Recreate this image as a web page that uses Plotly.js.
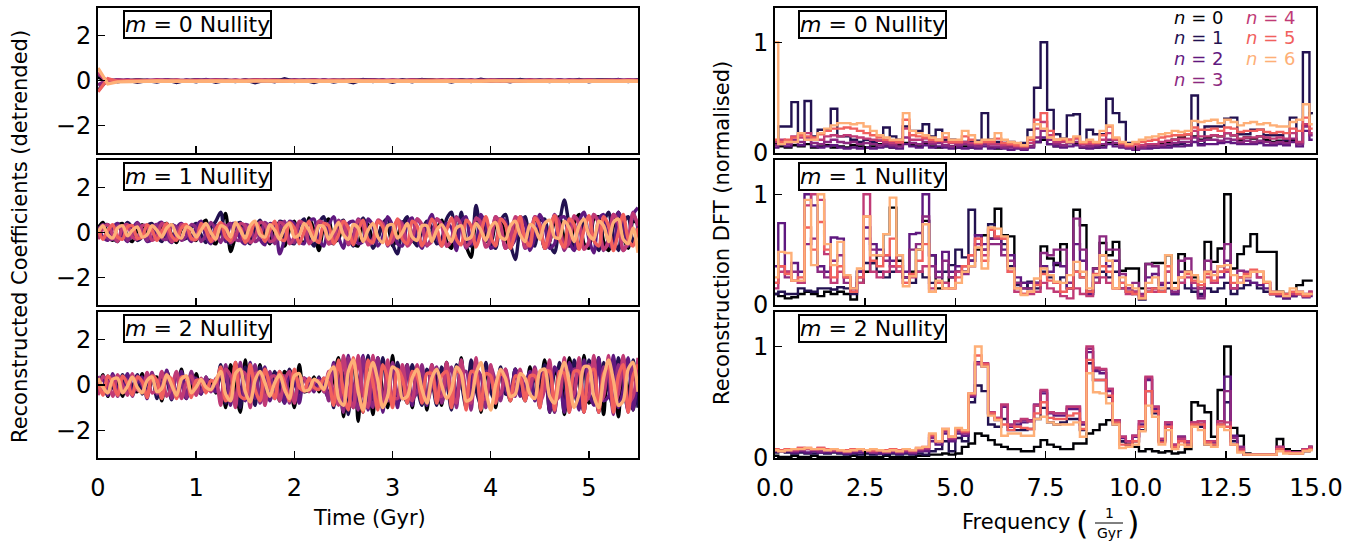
<!DOCTYPE html>
<html><head><meta charset="utf-8">
<script src="https://cdn.plot.ly/plotly-3.0.1.min.js"></script>
<style>html,body{margin:0;padding:0;background:#fff}</style>
</head><body>
<div id="chart" style="width:1359px;height:542px"></div>
<script>
// ---------------- DATA ----------------
const nLabels = ['0','1','2','3','4','5','6'];
const panelLabels = ['0','1','2'];
const timeStep = 0.05;      // Gyr, m=1 and m=2 series
const timeStepM0 = 0.1;     // Gyr, m=0 series
const freqStep = 1/5.5;     // 1/Gyr, DFT bins
const timeTicks = [0,1,2,3,4,5];
const coefTicks = [-2,0,2];
const coefTickText = ['\u22122','0','2'];
const freqTicks = [0,2.5,5,7.5,10,12.5,15];
const freqTickText = ['0.0','2.5','5.0','7.5','10.0','12.5','15.0'];
const dftTicks = [0,1];
const dftTickText = ['0','1'];

// m=0 reconstructed coefficients (step 0.1 Gyr)
const m0n0 = [0.15,-0.02,0.01,-0.01,0.02,0.0,-0.02,0.01,0.0,-0.01,0.02,-0.01,0.0,0.01,-0.02,0.0,0.01,-0.01,0.02,0.0,-0.01,0.0,0.01,-0.02,0.0,0.01,-0.01,0.0,0.02,-0.01,0.0,0.01,-0.01,0.0,0.02,-0.02,0.0,0.01,-0.01,0.0,0.01,-0.01,0.02,0.0,-0.01,0.0,0.01,-0.02,0.0,0.01,-0.01,0.0,0.02,-0.01,0.0,0.01];
const m0n1 = [-0.45,0.05,-0.06,0.02,-0.08,0.0,-0.07,0.03,-0.09,0.02,-0.06,0.04,-0.08,0.01,-0.05,0.03,-0.1,0.02,-0.06,0.08,-0.04,0.02,-0.09,0.03,-0.07,0.01,-0.1,0.04,-0.05,0.02,-0.08,0.03,-0.06,0.05,-0.04,0.02,-0.07,0.03,-0.05,0.06,-0.03,0.02,-0.06,0.04,-0.03,0.02,-0.05,0.03,-0.04,0.05,-0.06,0.02,-0.03,0.04,-0.05,0.02];
const m0n2 = [0.3,-0.05,0.03,-0.04,0.02,-0.03,0.04,-0.02,0.01,-0.04,0.03,-0.02,0.04,-0.03,0.02,-0.04,0.03,-0.01,0.02,-0.03,0.04,-0.02,0.03,-0.04,0.02,-0.03,0.03,-0.02,0.04,-0.03,0.02,-0.04,0.03,-0.02,0.01,-0.03,0.04,-0.02,0.03,-0.04,0.02,-0.03,0.04,-0.02,0.03,-0.03,0.02,-0.04,0.03,-0.02,0.04,-0.03,0.02,-0.03,0.03,-0.02];
const m0n3 = [-0.2,0.04,-0.02,0.03,-0.03,0.02,-0.01,0.03,-0.03,0.02,-0.02,0.03,-0.01,0.02,-0.03,0.02,-0.02,0.03,-0.02,0.01,-0.03,0.02,-0.02,0.03,-0.01,0.02,-0.03,0.02,-0.02,0.03,-0.02,0.01,-0.03,0.02,-0.02,0.03,-0.01,0.02,-0.03,0.02,-0.02,0.03,-0.02,0.01,-0.03,0.02,-0.02,0.03,-0.02,0.02,-0.03,0.02,-0.01,0.03,-0.02,0.02];
const m0n4 = [0.35,-0.1,0.02,-0.02,0.01,-0.02,0.02,-0.01,0.02,-0.02,0.01,-0.02,0.02,-0.01,0.01,-0.02,0.02,-0.01,0.02,-0.02,0.01,-0.01,0.02,-0.02,0.01,-0.02,0.02,-0.01,0.01,-0.02,0.02,-0.01,0.02,-0.02,0.01,-0.01,0.02,-0.02,0.01,-0.02,0.02,-0.01,0.01,-0.02,0.02,-0.01,0.02,-0.02,0.01,-0.01,0.02,-0.02,0.01,-0.02,0.02,-0.01];
const m0n5 = [-0.5,0.08,-0.04,-0.01,-0.02,0.0,-0.01,-0.02,0.0,-0.01,-0.02,0.0,-0.01,-0.01,0.0,-0.02,-0.01,0.0,-0.01,-0.02,0.0,-0.01,-0.01,0.0,-0.02,-0.01,0.0,-0.01,-0.02,0.0,-0.01,-0.01,0.0,-0.02,-0.01,0.0,-0.01,-0.01,0.0,-0.02,-0.01,0.0,-0.01,-0.01,0.0,-0.02,-0.01,0.0,-0.01,-0.02,0.0,-0.01,-0.01,0.0,-0.02,-0.01];
const m0n6 = [0.55,-0.15,-0.06,-0.04,-0.03,-0.03,-0.02,-0.03,-0.03,-0.02,-0.03,-0.02,-0.03,-0.03,-0.02,-0.03,-0.02,-0.03,-0.02,-0.03,-0.03,-0.02,-0.03,-0.02,-0.03,-0.03,-0.02,-0.03,-0.02,-0.03,-0.02,-0.03,-0.03,-0.02,-0.03,-0.02,-0.03,-0.03,-0.02,-0.03,-0.02,-0.03,-0.02,-0.03,-0.03,-0.02,-0.03,-0.02,-0.03,-0.03,-0.02,-0.03,-0.02,-0.03,-0.02,-0.03];

// m=1 reconstructed coefficients (step 0.05 Gyr)
const m1n0 = [0.2,0.45,-0.1,-0.35,0.3,0.4,-0.2,-0.4,0.1,0.35, 0.05,-0.3,-0.2,0.25,0.4,-0.1,-0.45,0.15,0.3,-0.2, -0.35,0.3,0.55,-0.3,-0.5,0.2,0.85,-0.85,-0.2,0.3, 0.1,-0.4,0.25,0.45,-0.15,-0.5,0.3,0.4,-0.6,0.1, 0.5,-0.3,-0.45,0.65,0.1,-0.8,0.3,0.6,-0.4,-0.3, 0.45,0.2,-0.5,-0.6,0.5,0.35,-0.3,-0.2,0.4,0.3, -0.6,-0.2,0.45,0.5,-0.3,-0.5,0.2,0.3,-0.35,0.1, 0.55,-0.4,-0.7,0.6,0.4,-0.6,-1.1,0.5,0.7,-0.3, -0.5,0.4,0.6,-0.2,-0.7,0.3,0.5,-0.4,-0.6,0.65, 0.2,-0.7,-0.4,0.5,0.7,-0.3,-0.6,0.4,0.8,-0.5, -0.7,0.6,0.7,-0.4,-0.8,0.3,0.9,-0.2,-0.7,0.5,0.4];
const m1n1 = [-0.1,0.3,0.35,-0.2,-0.4,0.1,0.45,0.2,-0.35,-0.2, 0.3,0.4,-0.15,-0.4,0.1,0.35,0.2,-0.3,-0.25,0.2, 0.4,-0.1,-0.45,0.2,0.5,0.9,-0.3,-0.5,0.3,0.45, -0.2,-0.5,0.2,0.55,0.1,-0.45,-0.3,0.5,0.4,-0.4, -0.5,0.3,0.6,-0.2,-0.6,0.4,0.7,-0.3,-0.5,0.3, 0.55,-0.2,-0.6,0.2,0.65,0.1,-0.7,-0.3,0.4,0.6, -0.5,-0.95,0.3,0.7,-0.2,-0.6,0.1,0.5,0.2,-0.5, -0.3,0.6,0.9,-0.4,0.9,-0.3,-0.6,1.2,0.2,0.6, -0.4,-0.7,0.5,0.8,-0.5,-1.2,0.2,0.7,-0.3,-0.6, 0.5,0.6,-0.5,-0.9,0.4,1.45,0.3,-0.6,-0.7,0.5, 0.7,-0.3,-0.8,0.4,0.9,-0.2,-0.8,0.4,0.7,-0.5,0.3];
const m1n2 = [0.25,-0.2,-0.35,0.2,0.4,-0.1,-0.4,0.15,0.45,0.1, -0.4,-0.3,0.3,0.45,-0.2,-0.45,0.2,0.4,-0.1,-0.4, 0.25,0.5,-0.2,-0.5,0.3,0.1,-0.4,0.35,0.4,-0.3, -0.5,0.3,0.4,-0.3,-0.55,0.4,0.3,-0.95,-0.3,0.5, 0.4,-0.4,-0.5,0.5,0.6,-0.3,-0.6,0.3,0.7,-0.2, -0.7,0.4,0.5,-0.5,-0.4,0.6,0.3,-0.6,-0.2,0.7, 0.3,-0.5,-0.6,0.4,0.65,-0.3,-0.7,0.3,0.8,-0.2, -0.6,0.4,0.2,-0.8,0.5,0.7,-0.5,-0.4,0.8,0.3, -0.7,-0.5,0.6,0.5,-0.6,-0.3,0.7,0.4,-0.8,-0.2, 0.8,0.3,-0.7,-0.5,0.6,0.7,-0.4,-0.8,0.5,0.9, -0.3,-0.9,0.6,0.8,-0.5,-0.7,0.9,0.4,-0.6,0.8,1.1];
const m1n3 = [0.1,0.35,-0.25,-0.3,0.3,0.2,-0.35,-0.1,0.4,0.05, -0.35,0.2,0.35,-0.25,-0.3,0.3,0.25,-0.35,-0.15,0.35, 0.2,-0.4,-0.1,0.45,0.1,-0.45,0.2,0.4,-0.3,-0.35, 0.35,0.25,-0.4,-0.2,0.45,0.2,-0.5,0.1,0.5,-0.3, -0.45,0.35,0.4,-0.4,-0.3,0.5,0.3,-0.5,-0.2,0.55, 0.2,-0.55,-0.1,0.6,0.3,-0.5,-0.45,0.5,0.35,-0.6, -0.2,0.55,0.4,-0.55,-0.3,0.6,0.25,-0.6,-0.2,0.6, 0.4,-0.6,-0.3,0.7,0.3,-0.7,-0.2,0.6,0.5,-0.6, -0.4,0.7,0.3,-0.7,-0.3,0.6,0.5,-0.7,-0.4,0.7, 0.4,-0.7,-0.3,0.8,0.3,-0.8,-0.2,0.7,0.5,-0.7, -0.5,0.8,0.4,-0.8,-0.3,0.8,0.5,-0.8,-0.4,0.9,0.2];
const m1n4 = [-0.3,0.2,0.35,-0.1,-0.4,0.25,0.35,-0.2,-0.3,0.3, 0.3,-0.35,-0.15,0.4,0.2,-0.4,-0.2,0.35,0.3,-0.3, -0.3,0.3,0.35,-0.4,-0.2,0.4,0.3,-0.45,-0.2,0.4, 0.3,-0.45,-0.2,0.45,0.35,-0.4,-0.3,0.45,0.3,-0.5, -0.2,0.5,0.35,-0.5,-0.2,0.5,0.4,-0.5,-0.3,0.45, 0.45,-0.5,-0.3,0.55,0.3,-0.55,-0.3,0.55,0.4,-0.5, -0.4,0.55,0.3,-0.6,-0.3,0.6,0.35,-0.55,-0.4,0.6, 0.3,-0.6,-0.35,0.65,0.3,-0.6,-0.4,0.65,0.4,-0.65, -0.3,0.7,0.35,-0.7,-0.35,0.7,0.4,-0.65,-0.45,0.7, 0.35,-0.7,-0.4,0.75,0.4,-0.7,-0.45,0.75,0.35,-0.75, -0.4,0.8,0.4,-0.75,-0.45,0.8,0.4,-0.8,-0.4,0.85,0.3];
const m1n5 = [0.15,-0.3,0.1,0.35,-0.2,-0.3,0.25,0.3,-0.25,-0.2, 0.35,0.1,-0.35,0.05,0.4,-0.15,-0.35,0.2,0.35,-0.25, -0.3,0.4,0.1,-0.4,0.15,0.45,-0.2,-0.35,0.4,0.2, -0.45,-0.1,0.45,0.15,-0.4,0.1,0.5,-0.25,-0.35,0.45, 0.2,-0.5,0.05,0.5,-0.2,-0.45,0.4,0.3,-0.5,-0.1, 0.5,0.2,-0.55,0.1,0.55,-0.3,-0.45,0.5,0.25,-0.55, 0.0,0.6,-0.3,-0.5,0.5,0.3,-0.6,-0.1,0.6,0.2, -0.6,0.1,0.65,-0.3,-0.55,0.55,0.3,-0.65,0.0,0.7, -0.2,-0.6,0.6,0.35,-0.7,0.0,0.7,-0.3,-0.6,0.65, 0.3,-0.7,0.1,0.75,-0.3,-0.65,0.6,0.35,-0.75,0.1, 0.75,-0.35,-0.6,0.7,0.3,-0.8,0.0,0.8,-0.3,-0.6,0.2];
const m1n6 = [0.0,0.3,-0.1,-0.25,0.2,0.3,-0.15,0.1,0.25,-0.2, -0.1,0.3,0.1,-0.2,0.2,0.35,-0.1,-0.25,0.25,0.15, -0.2,0.1,0.4,0.0,-0.3,0.3,0.2,-0.2,0.45,0.1, -0.25,0.3,0.5,-0.1,-0.2,0.35,0.1,-0.3,0.2,0.4, -0.2,-0.1,0.4,0.1,-0.35,0.3,0.25,-0.3,0.05,0.45, -0.1,-0.3,0.35,0.2,-0.4,0.1,0.4,-0.2,-0.45,0.3, 0.35,-0.25,0.0,0.4,-0.2,-0.35,0.3,0.3,-0.4,0.1, 0.35,0.0,-0.4,0.2,0.3,-0.3,-0.2,0.4,0.1,-0.35, 0.25,0.45,-0.2,-0.3,0.3,0.5,-0.1,-0.4,0.35,0.2, -0.3,0.4,0.55,-0.2,-0.25,0.5,0.2,-0.4,0.3,0.6, -0.1,-0.3,0.5,0.3,-0.4,0.45,0.6,-0.3,-0.5,0.2,-0.9];

// m=2 reconstructed coefficients (step 0.05 Gyr)
const m2n0 = [-0.4,0.45,-0.5,0.3,0.1,-0.5,0.45,-0.2,-0.3,0.5, -0.45,0.2,0.35,-0.7,0.6,-0.1,-0.55,0.7,-0.4,-0.2, 0.5,-0.35,0.1,0.2,-0.35,0.6,-1.0,0.9,-0.2,-1.2, 1.1,-0.6,-0.4,0.9,-0.8,0.3,0.5,-0.7,0.6,0.2, -1.0,0.9,-0.3,-0.2,0.35,-0.3,0.1,-0.4,0.3,1.2, -1.4,0.6,0.8,-1.6,1.0,0.5,-1.3,1.2,-0.3,-1.0, 1.3,-0.8,-0.3,0.9,-1.0,0.4,0.6,-1.1,0.8,0.2, -0.9,1.0,-0.4,-0.7,1.2,-0.8,-0.3,1.1,-1.2,0.4, 0.7,-1.0,0.6,0.2,-0.7,0.7,-0.3,-0.5,0.8,-0.6, -0.2,1.1,-1.2,0.5,0.6,-1.3,1.2,-0.2,-1.0,1.3, -0.8,-0.4,1.2,-1.3,0.7,0.5,-1.4,1.2,-0.3,-1.1,1.0];
const m2n1 = [0.3,-0.4,0.4,-0.1,-0.35,0.45,-0.3,-0.1,0.45,-0.4, 0.05,0.45,-0.6,0.4,0.2,-0.65,0.5,0.1,-0.6,0.5, -0.05,-0.4,0.35,-0.2,-0.1,0.9,-0.8,0.3,0.6,-1.0, 0.8,0.2,-0.9,0.8,-0.1,-0.6,0.6,0.0,-0.8,0.7, 0.1,-0.35,0.3,-0.1,-0.2,0.35,-0.3,0.5,-1.0,0.9, 0.4,-1.3,1.1,0.1,-1.2,1.3,-0.4,-0.9,1.2,-0.3, -0.8,1.0,-0.2,-0.8,0.9,-0.1,-0.9,0.7,0.2,-0.9, 0.8,0.2,-1.1,0.9,0.1,-1.0,1.1,-0.2,-0.9,1.0, -0.3,-0.7,0.8,-0.4,-0.4,0.7,-0.1,-0.7,0.6,0.3, -1.0,0.9,0.2,-1.2,1.0,0.1,-1.1,1.1,0.0,-1.2, 1.1,0.2,-1.2,1.0,-0.2,-1.0,1.2,0.0,-1.1,1.1,-1.0];
const m2n2 = [-0.2,0.35,-0.45,0.5,-0.2,-0.3,0.5,-0.45,0.1,0.35, -0.6,0.5,0.0,-0.5,0.65,-0.3,-0.3,0.6,-0.6,0.2, 0.3,-0.4,0.3,-0.1,-0.3,0.5,0.3,-0.9,1.0,-0.3, -0.7,1.0,-0.6,-0.3,0.8,-0.7,0.1,0.6,-0.8,0.5, 0.3,-0.8,0.3,0.1,-0.3,0.3,-0.1,-0.6,1.0,-0.7, -0.5,1.3,-1.0,-0.3,1.3,-1.1,-0.1,1.2,-1.2,0.4, 0.8,-1.0,0.5,0.5,-0.9,0.7,0.3,-0.9,0.9,-0.2, -0.7,1.0,-0.6,-0.4,1.1,-0.9,0.1,0.9,-1.0,0.6, 0.5,-0.8,0.6,-0.2,-0.5,0.7,-0.5,0.0,0.6,-0.7, 0.4,0.7,-1.2,0.8,0.3,-1.2,1.0,0.1,-1.1,1.1, -0.3,-0.9,1.2,-0.7,-0.5,1.3,-1.0,-0.2,1.2,-1.1,0.6];
const m2n3 = [0.4,-0.3,0.0,0.4,-0.5,0.3,0.2,-0.5,0.4,0.0, -0.4,0.55,-0.4,0.0,0.5,-0.6,0.4,0.1,-0.55,0.6, -0.2,-0.3,0.35,-0.3,0.05,-0.6,0.9,-0.5,-0.5,1.0, -0.6,-0.3,0.9,-0.8,0.0,0.6,-0.6,0.3,0.4,-0.8, 0.6,0.0,-0.3,0.3,-0.2,-0.1,0.3,-0.7,0.9,0.2, -1.2,1.2,-0.2,-1.1,1.2,-0.2,-1.0,1.2,-0.5,-0.7, 1.0,-0.4,-0.6,0.9,-0.6,-0.3,0.9,-0.8,0.0,0.8, -0.8,0.2,0.8,-1.0,0.5,0.6,-1.1,0.7,0.4,-1.0, 0.8,0.1,-0.7,0.7,-0.2,-0.5,0.6,-0.5,-0.2,0.8, -0.7,0.2,0.9,-1.2,0.4,0.8,-1.2,0.7,0.6,-1.2, 0.9,0.4,-1.2,0.8,0.4,-1.3,0.9,0.4,-1.2,0.9,0.3];
const m2n4 = [-0.45,0.4,0.1,-0.5,0.45,0.0,-0.45,0.5,-0.2,-0.3, 0.55,-0.35,-0.2,0.6,-0.5,-0.1,0.6,-0.6,0.1,0.4, -0.45,0.3,-0.1,-0.25,0.3,-0.9,0.7,0.4,-1.0,0.6, 0.5,-1.0,0.5,0.5,-0.9,0.3,0.4,-0.7,0.2,0.6, -0.8,0.2,0.3,-0.3,0.1,0.2,-0.3,0.6,-0.4,-0.9, 1.3,-0.4,-1.0,1.3,-0.4,-1.0,1.3,-0.6,-0.8,1.1, -0.5,-0.6,0.9,-0.3,-0.7,0.9,-0.4,-0.6,0.9,-0.4, -0.5,1.0,-0.3,-0.8,1.1,-0.4,-0.8,1.2,-0.6,-0.6, 0.9,-0.5,-0.4,0.7,-0.6,-0.2,0.7,-0.6,-0.1,0.7, -0.8,-0.2,1.1,-0.7,-0.5,1.2,-0.8,-0.4,1.2,-0.8, -0.5,1.3,-0.8,-0.5,1.3,-0.9,-0.4,1.3,-0.8,-0.5,1.2];
const m2n5 = [0.1,-0.45,0.4,0.1,-0.45,0.4,0.05,-0.45,0.35,0.15, -0.55,0.4,0.2,-0.6,0.4,0.25,-0.6,0.35,0.3,-0.55, 0.2,0.2,-0.35,0.2,0.1,0.8,-0.7,-0.4,1.0,-0.5, -0.6,0.9,-0.2,-0.7,0.7,0.0,-0.6,0.6,0.1,-0.7, 0.7,-0.1,-0.25,0.3,-0.1,-0.2,0.3,0.1,-0.9,1.1, -0.3,-1.1,1.2,-0.1,-1.2,1.1,0.1,-1.1,0.9,0.3, -1.0,0.7,0.3,-0.8,0.6,0.4,-0.8,0.5,0.5,-0.8, 0.4,0.6,-1.0,0.6,0.5,-1.1,0.6,0.5,-1.1,0.5, 0.4,-0.8,0.5,0.3,-0.7,0.4,0.3,-0.7,0.4,0.4, -1.0,0.6,0.6,-1.1,0.6,0.5,-1.2,0.6,0.6,-1.2, 0.5,0.7,-1.2,0.5,0.8,-1.2,0.4,0.9,-1.2,0.4,0.9];
const m2n6 = [0.3,-0.1,-0.35,0.25,0.3,-0.35,-0.05,0.35,-0.1,-0.35, 0.2,0.35,-0.3,-0.15,0.45,0.0,-0.45,0.25,0.4,-0.35, -0.1,0.25,-0.1,-0.2,0.2,0.6,-0.4,-0.7,0.5,0.7, -0.3,-0.75,0.2,0.6,0.1,-0.5,0.1,0.45,-0.2,-0.6, 0.4,0.5,-0.25,-0.2,0.25,0.1,-0.2,0.5,0.8,-0.6, -0.9,0.6,1.1,-0.3,-1.1,0.2,1.0,0.2,-1.0,-0.5, 0.8,0.6,-0.6,-0.5,0.3,0.7,-0.2,-0.8,0.3,0.7, 0.0,-0.6,-0.2,0.8,0.5,-0.7,-0.6,0.5,1.0,-0.2, -1.1,0.0,0.7,0.3,-0.5,-0.4,0.5,0.3,-0.4,-0.6, 0.6,0.7,-0.5,-0.8,0.3,1.0,0.1,-1.0,-0.4,0.8, 0.8,-0.5,-1.0,0.3,1.1,0.2,-0.9,-0.7,0.7,1.0,-0.3];

// DFT (normalised), bins of width 1/5.5 Gyr^-1
const dft0n0 = [0.08,0.06,0.05,0.07,0.06,0.08,0.05,0.06,0.07,0.05, 0.06,0.05,0.07,0.06,0.05,0.06,0.08,0.06,0.05,0.07, 0.09,0.07,0.06,0.08,0.06,0.05,0.07,0.06,0.05,0.06, 0.05,0.06,0.08,0.05,0.04,0.05,0.06,0.05,0.04,0.06, 0.1,0.12,0.08,0.06,0.07,0.09,0.08,0.05,0.06,0.05, 0.07,0.09,0.08,0.06,0.05,0.04,0.05,0.06,0.07,0.08, 0.1,0.12,0.14,0.17,0.15,0.12,0.14,0.16,0.15,0.18, 0.16,0.12,0.14,0.13,0.15,0.12,0.1,0.11,0.1,0.12, 0.09,0.25,0.36];
const dft0n1 = [0.1,0.24,0.24,0.46,0.17,0.47,0.15,0.21,0.21,0.40, 0.15,0.15,0.12,0.1,0.12,0.1,0.11,0.23,0.15,0.12, 0.24,0.2,0.2,0.26,0.15,0.21,0.12,0.12,0.1,0.1, 0.11,0.11,0.36,0.12,0.1,0.09,0.1,0.08,0.09,0.21, 0.59,1.0,0.39,0.17,0.13,0.34,0.35,0.09,0.21,0.17, 0.17,0.49,0.36,0.28,0.09,0.05,0.05,0.06,0.05,0.06, 0.07,0.07,0.08,0.07,0.52,0.08,0.24,0.24,0.24,0.31, 0.32,0.17,0.17,0.21,0.21,0.16,0.16,0.16,0.12,0.32, 0.08,0.91,0.36];
const dft0n2 = [0.05,0.08,0.06,0.1,0.07,0.12,0.06,0.05,0.06,0.07, 0.05,0.04,0.05,0.04,0.05,0.04,0.05,0.06,0.05,0.04, 0.08,0.06,0.05,0.07,0.05,0.06,0.05,0.04,0.05,0.04, 0.05,0.04,0.06,0.04,0.05,0.04,0.03,0.04,0.03,0.05, 0.1,0.14,0.08,0.06,0.05,0.06,0.07,0.05,0.04,0.05, 0.05,0.08,0.06,0.05,0.04,0.03,0.04,0.04,0.05,0.05, 0.05,0.06,0.06,0.07,0.1,0.07,0.08,0.08,0.09,0.1, 0.09,0.08,0.08,0.08,0.09,0.07,0.07,0.08,0.07,0.1, 0.06,0.2,0.12];
const dft0n3 = [0.07,0.1,0.08,0.12,0.1,0.14,0.09,0.08,0.1,0.12, 0.1,0.09,0.1,0.08,0.09,0.08,0.07,0.08,0.07,0.06, 0.14,0.09,0.08,0.1,0.08,0.09,0.07,0.06,0.07,0.08, 0.07,0.06,0.08,0.06,0.06,0.05,0.05,0.05,0.04,0.06, 0.14,0.2,0.12,0.08,0.07,0.09,0.1,0.06,0.06,0.07, 0.08,0.12,0.09,0.06,0.05,0.04,0.05,0.06,0.06,0.07, 0.08,0.09,0.1,0.1,0.14,0.11,0.12,0.12,0.11,0.13, 0.12,0.1,0.11,0.1,0.11,0.1,0.09,0.1,0.09,0.13, 0.08,0.24,0.16];
const dft0n4 = [0.1,0.12,0.1,0.15,0.14,0.18,0.12,0.12,0.15,0.16, 0.15,0.16,0.15,0.14,0.13,0.12,0.11,0.1,0.09,0.09, 0.22,0.12,0.12,0.13,0.1,0.12,0.1,0.09,0.09,0.1, 0.09,0.08,0.1,0.08,0.08,0.07,0.07,0.06,0.06,0.09, 0.22,0.28,0.16,0.1,0.1,0.12,0.13,0.08,0.08,0.09, 0.12,0.18,0.12,0.08,0.06,0.06,0.07,0.08,0.08,0.1, 0.11,0.12,0.13,0.13,0.2,0.15,0.15,0.16,0.15,0.18, 0.16,0.13,0.14,0.14,0.15,0.14,0.13,0.14,0.13,0.18, 0.1,0.26,0.18];
const dft0n5 = [0.12,0.1,0.12,0.14,0.16,0.15,0.14,0.17,0.2,0.22, 0.22,0.23,0.22,0.2,0.18,0.16,0.14,0.12,0.11,0.1, 0.3,0.16,0.15,0.14,0.12,0.11,0.14,0.1,0.1,0.15, 0.12,0.09,0.1,0.1,0.13,0.09,0.08,0.07,0.06,0.12, 0.3,0.36,0.2,0.12,0.12,0.12,0.14,0.09,0.1,0.09, 0.16,0.24,0.13,0.09,0.07,0.08,0.1,0.11,0.12,0.14, 0.15,0.16,0.16,0.17,0.23,0.21,0.21,0.22,0.2,0.23, 0.22,0.19,0.2,0.2,0.21,0.19,0.18,0.19,0.18,0.22, 0.2,0.32,0.22];
const dft0n6 = [1.0,0.08,0.1,0.1,0.18,0.12,0.12,0.18,0.22,0.25, 0.27,0.27,0.26,0.27,0.24,0.2,0.16,0.14,0.12,0.12, 0.36,0.2,0.18,0.16,0.14,0.12,0.18,0.12,0.12,0.2, 0.16,0.1,0.12,0.12,0.18,0.12,0.1,0.09,0.07,0.14, 0.26,0.22,0.14,0.12,0.13,0.1,0.15,0.1,0.12,0.1, 0.2,0.25,0.14,0.1,0.08,0.1,0.12,0.14,0.15,0.17, 0.18,0.2,0.19,0.2,0.29,0.28,0.29,0.3,0.27,0.3, 0.28,0.25,0.27,0.28,0.26,0.27,0.25,0.24,0.24,0.28, 0.3,0.44,0.26];

const dft1n0 = [0.1,0.08,0.06,0.07,0.1,0.12,0.1,0.08,0.12,0.1, 0.12,0.1,0.05,0.2,0.3,0.38,0.45,0.64,0.88,0.4, 0.25,0.3,0.5,0.76,0.45,0.15,0.2,0.25,0.3,0.3, 0.4,0.5,0.63,0.6,0.87,0.63,0.62,0.2,0.2,0.15, 0.2,0.53,0.42,0.36,0.55,0.15,0.86,0.72,0.12,0.33, 0.56,0.45,0.57,0.31,0.33,0.33,0.15,0.37,0.38,0.38, 0.45,0.2,0.46,0.3,0.25,0.15,0.57,0.39,0.51,1.0, 0.33,0.46,0.53,0.64,0.48,0.48,0.48,0.12,0.1,0.1, 0.18,0.22,0.22];
const dft1n1 = [0.1,0.12,0.1,0.1,0.15,0.13,0.12,0.15,0.15,0.14, 0.16,0.15,0.1,0.3,0.38,0.38,0.3,0.25,0.3,0.3, 0.25,0.2,0.3,0.25,0.2,0.2,0.3,0.36,0.5,0.43, 0.86,0.63,0.5,0.73,0.6,0.55,0.35,0.18,0.15,0.21, 0.15,0.3,0.25,0.2,0.25,0.2,0.3,0.25,0.1,0.2, 0.3,0.25,0.3,0.15,0.12,0.1,0.05,0.12,0.15,0.12, 0.15,0.1,0.2,0.15,0.12,0.1,0.15,0.12,0.15,0.2, 0.1,0.15,0.18,0.2,0.15,0.12,0.1,0.08,0.06,0.08, 0.1,0.08,0.1];
const dft1n2 = [0.35,0.74,0.3,0.38,0.3,1.0,0.9,0.35,0.3,0.61, 0.6,0.25,0.15,0.3,0.7,0.55,0.5,0.45,0.4,0.45, 0.3,0.64,0.65,1.0,0.45,0.3,0.48,0.3,0.35,0.3, 0.4,0.63,0.55,0.6,0.6,0.5,0.45,0.25,0.2,0.2, 0.2,0.35,0.3,0.38,0.35,0.15,0.55,0.4,0.1,0.25, 0.45,0.35,0.4,0.2,0.15,0.12,0.08,0.25,0.28,0.18, 0.2,0.1,0.3,0.3,0.15,0.08,0.3,0.2,0.25,0.4, 0.15,0.25,0.22,0.2,0.18,0.15,0.1,0.08,0.06,0.08, 0.1,0.07,0.08];
const dft1n3 = [0.2,0.35,0.25,0.3,0.2,0.55,0.6,0.3,0.25,0.4, 0.45,0.2,0.12,0.25,0.6,0.5,0.45,0.4,0.35,0.35, 0.25,0.5,0.55,0.8,0.35,0.25,0.4,0.25,0.3,0.28, 0.35,0.55,0.5,0.55,0.55,0.45,0.4,0.2,0.15,0.15, 0.2,0.47,0.45,0.5,0.5,0.2,0.78,0.5,0.12,0.33, 0.62,0.5,0.5,0.28,0.15,0.2,0.1,0.37,0.35,0.2, 0.3,0.12,0.4,0.42,0.2,0.06,0.4,0.3,0.35,0.55, 0.15,0.31,0.3,0.3,0.25,0.2,0.12,0.1,0.08,0.1, 0.12,0.1,0.12];
const dft1n4 = [0.15,0.3,0.3,0.22,0.2,0.9,1.0,0.95,0.46,0.2, 0.3,0.25,0.15,0.2,1.0,0.3,0.25,0.3,0.35,0.3, 0.2,0.25,0.3,0.35,0.15,0.2,0.2,0.15,0.3,0.35, 0.45,0.6,0.45,0.68,0.6,0.6,0.3,0.12,0.1,0.1, 0.12,0.2,0.15,0.12,0.08,0.06,0.15,0.1,0.08,0.2, 0.25,0.2,0.15,0.15,0.1,0.12,0.08,0.15,0.12,0.15, 0.3,0.15,0.2,0.25,0.2,0.15,0.25,0.2,0.3,0.3, 0.15,0.2,0.25,0.3,0.25,0.2,0.1,0.1,0.08,0.1, 0.1,0.08,0.12];
const dft1n5 = [0.2,0.35,0.28,0.22,0.25,0.7,0.5,0.75,0.5,0.25, 0.35,0.25,0.12,0.25,0.8,0.4,0.35,0.45,0.6,0.35, 0.2,0.28,0.4,0.55,0.12,0.2,0.15,0.15,0.25,0.35, 0.45,0.6,0.4,0.68,0.62,0.6,0.3,0.15,0.1,0.12, 0.18,0.28,0.22,0.2,0.12,0.15,0.3,0.25,0.12,0.28, 0.35,0.3,0.15,0.2,0.12,0.1,0.06,0.12,0.15,0.12, 0.35,0.15,0.25,0.28,0.22,0.18,0.28,0.22,0.3,0.32, 0.2,0.25,0.28,0.32,0.3,0.2,0.1,0.1,0.1,0.12, 0.1,0.08,0.1];
const dft1n6 = [0.25,0.48,0.47,0.22,0.22,0.95,0.36,1.0,0.55,0.36, 0.57,0.27,0.15,0.33,0.8,0.45,0.45,0.64,0.97,0.45, 0.17,0.26,0.5,0.73,0.12,0.22,0.15,0.15,0.2,0.3, 0.35,0.52,0.33,0.7,0.69,0.62,0.33,0.15,0.09,0.12, 0.24,0.33,0.27,0.21,0.2,0.27,0.39,0.3,0.15,0.27, 0.45,0.4,0.15,0.25,0.18,0.15,0.06,0.2,0.25,0.15, 0.45,0.15,0.25,0.3,0.27,0.21,0.3,0.27,0.35,0.36, 0.27,0.2,0.26,0.3,0.3,0.21,0.12,0.12,0.08,0.15, 0.12,0.1,0.1];

const dft2n0 = [0.02,0.01,0.01,0.02,0.01,0.01,0.02,0.01,0.01,0.01, 0.01,0.01,0.02,0.01,0.01,0.01,0.01,0.02,0.01,0.01, 0.01,0.01,0.02,0.02,0.03,0.03,0.04,0.03,0.04,0.1, 0.13,0.22,0.2,0.16,0.12,0.1,0.08,0.08,0.06,0.06, 0.1,0.16,0.12,0.1,0.08,0.08,0.13,0.13,0.22,0.25, 0.3,0.34,0.34,0.15,0.12,0.1,0.06,0.08,0.06,0.05, 0.06,0.04,0.05,0.08,0.5,0.47,0.41,0.19,0.61,1.0, 0.27,0.2,0.04,0.03,0.03,0.03,0.03,0.17,0.08,0.06, 0.06,0.08,0.1];
const dft2n1 = [0.05,0.06,0.05,0.04,0.05,0.04,0.04,0.05,0.04,0.05, 0.04,0.03,0.04,0.03,0.04,0.03,0.04,0.03,0.04,0.03, 0.04,0.03,0.04,0.03,0.06,0.08,0.15,0.06,0.18,0.15, 0.5,0.65,0.6,0.3,0.28,0.35,0.25,0.25,0.25,0.26, 0.35,0.45,0.32,0.3,0.32,0.35,0.35,0.25,0.85,0.7, 0.7,0.55,0.3,0.15,0.12,0.15,0.25,0.6,0.4,0.15, 0.28,0.1,0.18,0.12,0.28,0.28,0.12,0.12,0.28,0.5, 0.15,0.08,0.03,0.03,0.03,0.03,0.03,0.08,0.05,0.04, 0.04,0.06,0.08];
const dft2n2 = [0.06,0.07,0.06,0.05,0.06,0.05,0.06,0.05,0.05,0.06, 0.05,0.04,0.05,0.05,0.06,0.05,0.04,0.05,0.05,0.04, 0.05,0.04,0.06,0.06,0.15,0.12,0.22,0.15,0.22,0.2, 0.55,0.86,0.82,0.4,0.34,0.46,0.28,0.3,0.32,0.33, 0.47,0.58,0.4,0.38,0.38,0.44,0.44,0.3,0.95,0.78, 0.76,0.6,0.33,0.18,0.15,0.19,0.3,0.7,0.44,0.16, 0.3,0.11,0.19,0.14,0.3,0.3,0.14,0.14,0.3,0.73, 0.2,0.1,0.03,0.03,0.03,0.03,0.03,0.1,0.06,0.05, 0.05,0.08,0.1];
const dft2n3 = [0.07,0.06,0.07,0.06,0.07,0.08,0.07,0.06,0.07,0.06, 0.06,0.05,0.06,0.07,0.06,0.05,0.06,0.05,0.06,0.05, 0.06,0.05,0.07,0.08,0.18,0.14,0.24,0.17,0.24,0.22, 0.56,0.84,0.84,0.4,0.36,0.47,0.3,0.33,0.34,0.34, 0.48,0.6,0.41,0.4,0.4,0.46,0.46,0.32,0.98,0.8, 0.79,0.62,0.34,0.19,0.15,0.2,0.33,0.72,0.46,0.17, 0.32,0.12,0.19,0.15,0.32,0.33,0.15,0.15,0.33,0.6, 0.18,0.1,0.03,0.03,0.03,0.03,0.03,0.1,0.06,0.05, 0.05,0.08,0.1];
const dft2n4 = [0.08,0.07,0.08,0.07,0.09,0.08,0.08,0.09,0.08,0.07, 0.07,0.06,0.07,0.08,0.07,0.06,0.07,0.06,0.07,0.06, 0.07,0.06,0.08,0.09,0.2,0.15,0.25,0.18,0.25,0.23, 0.57,0.85,0.85,0.41,0.36,0.48,0.29,0.33,0.35,0.33, 0.47,0.61,0.41,0.4,0.4,0.46,0.46,0.32,1.0,0.81, 0.8,0.62,0.34,0.19,0.15,0.2,0.33,0.73,0.46,0.17, 0.32,0.12,0.17,0.15,0.32,0.33,0.15,0.15,0.33,0.32, 0.12,0.08,0.03,0.03,0.03,0.03,0.03,0.1,0.06,0.05, 0.05,0.08,0.1];
const dft2n5 = [0.08,0.07,0.08,0.08,0.09,0.09,0.08,0.09,0.08,0.08, 0.07,0.07,0.08,0.08,0.07,0.07,0.07,0.07,0.08,0.07, 0.08,0.07,0.09,0.1,0.21,0.15,0.26,0.19,0.26,0.24, 0.58,0.92,0.84,0.4,0.35,0.3,0.25,0.28,0.27,0.26, 0.4,0.5,0.36,0.35,0.35,0.38,0.4,0.26,0.88,0.7, 0.7,0.56,0.32,0.12,0.12,0.15,0.28,0.6,0.42,0.14, 0.28,0.1,0.15,0.12,0.3,0.3,0.14,0.12,0.3,0.28, 0.12,0.06,0.03,0.03,0.03,0.03,0.03,0.08,0.05,0.04, 0.04,0.07,0.08];
const dft2n6 = [0.07,0.06,0.07,0.08,0.08,0.09,0.08,0.08,0.07,0.08, 0.07,0.06,0.07,0.08,0.07,0.08,0.07,0.06,0.07,0.06, 0.08,0.07,0.09,0.1,0.22,0.15,0.26,0.19,0.27,0.25, 0.58,1.0,0.82,0.38,0.34,0.2,0.22,0.22,0.2,0.2, 0.35,0.37,0.32,0.3,0.3,0.3,0.32,0.19,0.76,0.59, 0.58,0.49,0.3,0.09,0.1,0.12,0.24,0.47,0.37,0.12, 0.25,0.08,0.12,0.1,0.28,0.25,0.12,0.1,0.28,0.25, 0.12,0.05,0.03,0.03,0.03,0.03,0.03,0.06,0.04,0.04, 0.04,0.06,0.07];

// ---------------- STYLE / LAYOUT ----------------
const colors = ['#000004','#221150','#5f187f','#8c2981','#c03a76','#f1605d','#feaf77'];
const W = 1359, H = 542;
const PX = x => x / W;
const PY = y => 1 - y / H;
const FONT = 'DejaVu Sans, Liberation Sans, sans-serif';

const leftX = [PX(98), PX(638)];
const rightX = [PX(775), PX(1316)];
const rowsY = [[PY(153), PY(8)], [PY(305), PY(160)], [PY(458), PY(312)]];

const leftData = [
  {series:[m0n0,m0n1,m0n2,m0n3,m0n4,m0n5,m0n6], step:timeStepM0},
  {series:[m1n0,m1n1,m1n2,m1n3,m1n4,m1n5,m1n6], step:timeStep},
  {series:[m2n0,m2n1,m2n2,m2n3,m2n4,m2n5,m2n6], step:timeStep}
];
const rightData = [
  [dft0n0,dft0n1,dft0n2,dft0n3,dft0n4,dft0n5,dft0n6],
  [dft1n0,dft1n1,dft1n2,dft1n3,dft1n4,dft1n5,dft1n6],
  [dft2n0,dft2n1,dft2n2,dft2n3,dft2n4,dft2n5,dft2n6]
];

const traces = [];
leftData.forEach((panel, p) => {
  panel.series.forEach((ys, n) => {
    traces.push({
      type:'scatter', mode:'lines',
      x: ys.map((_, i) => i * panel.step), y: ys,
      xaxis: 'x' + (p === 0 ? '' : p + 1), yaxis: 'y' + (p === 0 ? '' : p + 1),
      line: {color: colors[n], width: 3.4, shape: p === 0 ? 'linear' : 'spline', smoothing: 0.8},
      hoverinfo:'skip', showlegend:false
    });
  });
});
rightData.forEach((panel, p) => {
  panel.forEach((ys, n) => {
    traces.push({
      type:'scatter', mode:'lines',
      x: ys.map((_, k) => k * freqStep), y: ys,
      xaxis: 'x' + (p + 4), yaxis: 'y' + (p + 4),
      line: {color: colors[n], width: 2.4, shape:'hvh'},
      hoverinfo:'skip', showlegend:false
    });
  });
});

const tickFont = {family: FONT, size: 24, color: '#000'};
function axisBase() {
  return {showline:true, linecolor:'#000', linewidth:2, mirror:true,
          ticks:'inside', ticklen:7, tickwidth:1.5, tickcolor:'#000',
          showgrid:false, zeroline:false, tickfont: tickFont, fixedrange:true};
}
const layout = {
  width: W, height: H, margin: {l:0, r:0, t:0, b:0},
  paper_bgcolor:'#fff', plot_bgcolor:'#fff', showlegend:false,
  font: {family: FONT, color:'#000'},
  annotations: [], shapes: []
};
for (let p = 0; p < 3; p++) {
  const lx = 'xaxis' + (p === 0 ? '' : p + 1);
  const ly = 'yaxis' + (p === 0 ? '' : p + 1);
  layout[lx] = Object.assign(axisBase(), {domain: leftX, range:[0, 5.5],
    anchor: 'y' + (p === 0 ? '' : p + 1), tickvals: timeTicks,
    ticktext: timeTicks.map(String), showticklabels: p === 2, ticklabelstandoff: 7});
  layout[ly] = Object.assign(axisBase(), {domain: rowsY[p], range:[-3.22, 3.22],
    anchor: 'x' + (p === 0 ? '' : p + 1), tickvals: coefTicks, ticktext: coefTickText});
  const rx = 'xaxis' + (p + 4), ry = 'yaxis' + (p + 4);
  layout[rx] = Object.assign(axisBase(), {domain: rightX, range:[0, 15],
    anchor: 'y' + (p + 4), tickvals: freqTicks, ticktext: freqTickText, showticklabels: p === 2,
    ticklabelstandoff: 7});
  layout[ry] = Object.assign(axisBase(), {domain: rowsY[p], range:[0, 1.31],
    anchor: 'x' + (p + 4), tickvals: dftTicks, ticktext: dftTickText});

  // panel labels
  const top = [8, 160, 312][p];
  [123, 798].forEach(xp => {
    layout.annotations.push({xref:'paper', yref:'paper', x: PX(xp), y: PY(top + 2),
      xanchor:'left', yanchor:'top', showarrow:false,
      text: '<i>m</i> = ' + panelLabels[p] + ' Nullity',
      font: {family: FONT, size: 22, color:'#000'},
      bgcolor:'#fff', bordercolor:'#000', borderwidth:2, borderpad:0});
  });
}

// legend as coloured text
const legendPos = [[1198,17],[1198,38],[1198,58],[1198,79],[1270,17],[1270,38],[1270,58]];
nLabels.forEach((lab, n) => {
  layout.annotations.push({xref:'paper', yref:'paper', x: PX(legendPos[n][0]), y: PY(legendPos[n][1]),
    xanchor:'center', yanchor:'middle', showarrow:false,
    text:'<i>n</i> = ' + lab, font:{family: FONT, size: 18, color: colors[n]}});
});

// axis titles
layout.annotations.push({xref:'paper', yref:'paper', x: PX(20), y: PY(237), textangle:-90,
  xanchor:'center', yanchor:'middle', showarrow:false,
  text:'Reconstructed Coefficients (detrended)', font:{family: FONT, size: 21}});
layout.annotations.push({xref:'paper', yref:'paper', x: PX(722), y: PY(233), textangle:-90,
  xanchor:'center', yanchor:'middle', showarrow:false,
  text:'Reconstruction DFT (normalised)', font:{family: FONT, size: 21}});
layout.annotations.push({xref:'paper', yref:'paper', x: PX(369), y: PY(518),
  xanchor:'center', yanchor:'middle', showarrow:false,
  text:'Time (Gyr)', font:{family: FONT, size: 21}});
layout.annotations.push({xref:'paper', yref:'paper', x: PX(1073), y: PY(522),
  xanchor:'right', yanchor:'middle', showarrow:false,
  text:'Frequency', font:{family: FONT, size: 21}});
layout.annotations.push({xref:'paper', yref:'paper', x: PX(1082), y: PY(523),
  xanchor:'center', yanchor:'middle', showarrow:false,
  text:'(', font:{family: FONT, size: 32}});
layout.annotations.push({xref:'paper', yref:'paper', x: PX(1133), y: PY(523),
  xanchor:'center', yanchor:'middle', showarrow:false,
  text:')', font:{family: FONT, size: 32}});
layout.annotations.push({xref:'paper', yref:'paper', x: PX(1109), y: PY(513),
  xanchor:'center', yanchor:'middle', showarrow:false,
  text:'1', font:{family: FONT, size: 14}});
layout.annotations.push({xref:'paper', yref:'paper', x: PX(1109), y: PY(533),
  xanchor:'center', yanchor:'middle', showarrow:false,
  text:'Gyr', font:{family: FONT, size: 14}});
layout.shapes.push({type:'line', xref:'paper', yref:'paper',
  x0: PX(1095), x1: PX(1123), y0: PY(523), y1: PY(523), line:{color:'#000', width:1}});

Plotly.newPlot('chart', traces, layout, {displayModeBar:false, staticPlot:true});
</script>
</body></html>
